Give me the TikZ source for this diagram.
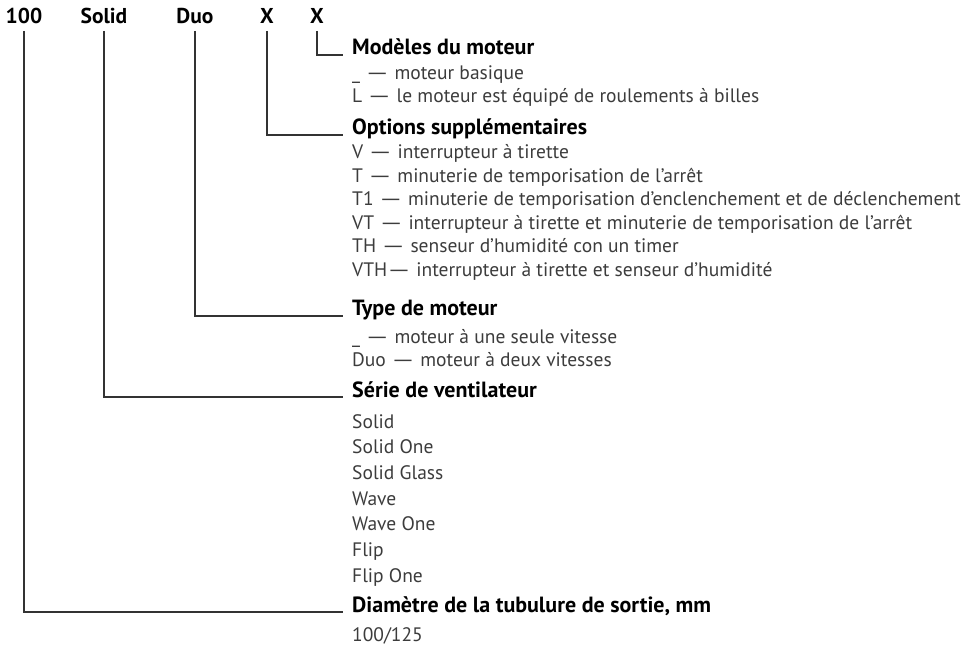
\documentclass[tikz,border=0pt]{standalone}
\usepackage{fontspec}
\setmainfont{PT Sans}
\definecolor{txtgray}{HTML}{3C3C3C}
\definecolor{linegray}{HTML}{333333}
\newcommand{\dsh}{\scalebox{1.5}[1]{—}}
\begin{document}
\begin{tikzpicture}[x=1pt,y=-1pt,
  hdr/.style={font=\fontsize{21.5}{24}\selectfont\bfseries, inner sep=0pt, anchor=base},
  ttl/.style={font=\fontsize{22}{24}\selectfont\bfseries, inner sep=0pt, anchor=base west},
  itm/.style={font=\fontsize{19.5}{23}\selectfont, text=txtgray, inner sep=0pt, anchor=base west},
  conn/.style={draw=linegray, line width=1.1pt}]
\useasboundingbox (0,0) rectangle (967,647);
% header
\node[hdr] (h100) at (24,24) {100};
\node[hdr] (hsol) at (104,24) {Solid};
\node[hdr] (hduo) at (195,24) {Duo};
\node[hdr] (hx1) at (267,24) {X};
\node[hdr] (hx2) at (317,24) {X};
% Modèles du moteur
\node[ttl] (tmod) at (352,55) {Modèles du moteur};
\node[itm] (m1) at (352,80) {\_ \dsh{} moteur basique};
\node[itm] (m2) at (352,103) {L \dsh{} le moteur est équipé de roulements à billes};
% Options
\node[ttl] (topt) at (352,135) {Options supplémentaires};
\node[itm] (o1) at (352,159) {V \dsh{} interrupteur à tirette};
\node[itm] (o2) at (352,182.5) {T \dsh{} minuterie de temporisation de l’arrêt};
\node[itm] (o3) at (352,206) {T1 \dsh{} minuterie de temporisation d’enclenchement et de déclenchement};
\node[itm] (o4) at (352,229.5) {VT \dsh{} interrupteur à tirette et minuterie de temporisation de l’arrêt};
\node[itm] (o5) at (352,253) {TH \dsh{} senseur d’humidité con un timer};
\node[itm] (o6) at (352,276.5) {VTH\dsh{} interrupteur à tirette et senseur d’humidité};
% Type de moteur
\node[ttl] (ttyp) at (352,316) {Type de moteur};
\node[itm] (t1) at (352,343) {\_ \dsh{} moteur à une seule vitesse};
\node[itm] (t2) at (352,366) {Duo \dsh{} moteur à deux vitesses};
% Série
\node[ttl] (tser) at (352,397) {Série de ventilateur};
\node[itm] (s1) at (352,428) {Solid};
\node[itm] (s2) at (352,453.7) {Solid One};
\node[itm] (s3) at (352,479.3) {Solid Glass};
\node[itm] (s4) at (352,505) {Wave};
\node[itm] (s5) at (352,530.7) {Wave One};
\node[itm] (s6) at (352,556.3) {Flip};
\node[itm] (s7) at (352,582) {Flip One};
% Diamètre
\node[ttl] (tdia) at (352,612) {Diamètre de la tubulure de sortie, mm};
\node[itm] (d1) at (352,641) {100/125};
% connectors
\draw[conn] ([yshift=-7pt]hx2.base) |- ([xshift=-9pt]tmod.base west);
\draw[conn] ([yshift=-7pt]hx1.base) |- ([xshift=-9pt]topt.base west);
\draw[conn] ([yshift=-7pt]hduo.base) |- ([xshift=-9pt]ttyp.base west);
\draw[conn] ([yshift=-7pt]hsol.base) |- ([xshift=-9pt]tser.base west);
\draw[conn] ([yshift=-7pt]h100.base) |- ([xshift=-9pt]tdia.base west);
\end{tikzpicture}
\end{document}
